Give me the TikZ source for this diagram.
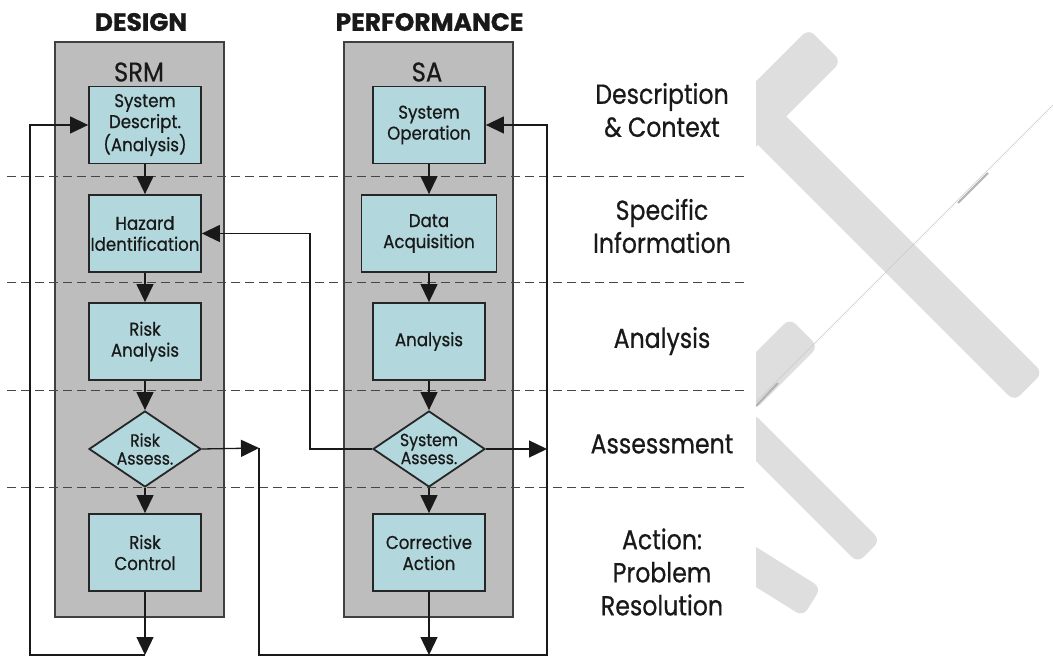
\documentclass[tikz,border=0pt]{standalone}
\usepackage{fontspec}
\setmainfont{Poppins}
\newfontfamily\sidefam[FakeStretch=0.86,FakeBold=0.6]{Poppins}
\newfontfamily\boxfam[FakeStretch=0.9,FakeBold=0.6]{Poppins}
\newfontfamily\headfam[BoldFeatures={FakeBold=0.8}]{Poppins}
\usetikzlibrary{arrows.meta,calc,shapes.geometric}
\definecolor{panelgray}{RGB}{189,189,189}
\definecolor{boxblue}{RGB}{178,216,221}
\definecolor{bandgray}{RGB}{222,222,222}
\definecolor{dashgray}{RGB}{70,70,70}
\definecolor{inkc}{RGB}{25,25,25}
\newcommand{\boxfont}{\boxfam\fontsize{18.5}{21}\selectfont}
\newcommand{\diafont}{\boxfam\fontsize{17.5}{18}\selectfont}
\newcommand{\sidefont}{\sidefam\fontsize{27.5}{33}\selectfont}
\newcommand{\headfont}{\headfam\fontsize{25}{28}\selectfont\bfseries}
\newcommand{\panelfont}{\boxfam\fontsize{27}{30}\selectfont}
\begin{document}
\begin{tikzpicture}[x=1pt,y=-1pt,
  panel/.style={draw=black!75, line width=1.5pt, fill=panelgray},
  stepbox/.style={draw=black!85, line width=1.8pt, fill=boxblue, minimum width=112pt,
    minimum height=77pt, align=center, inner sep=0pt, font=\boxfont, text=inkc},
  decision/.style={draw=black!85, line width=1.8pt, fill=boxblue, diamond,
    minimum width=112pt, minimum height=76pt, inner sep=0pt},
  dialabel/.style={align=center, font=\diafont, text=inkc, inner sep=0pt},
  flow/.style={draw=black!90, line width=1.3pt, -{Triangle[length=18pt,width=17pt]}},
  sepline/.style={draw=dashgray, line width=1pt, dash pattern=on 9pt off 5pt},
  sidelabel/.style={align=center, font=\sidefont, text=inkc, inner sep=0pt},
  band/.style={fill=bandgray, rounded corners=8pt}
]
\useasboundingbox (0,0) rectangle (1053,660);
\fill[white] (0,0) rectangle (1053,660);

% light grey strokes at the right
\begin{scope}
\clip (756,0) rectangle (1053,660);
\begin{scope}[shift={(772.5,97.5)}, rotate=45]
  \fill[band] (-60,-23) rectangle (74,23);
\end{scope}
\begin{scope}[shift={(772.5,131)}, rotate=-45]
  \fill[band] (-40,-20) rectangle (362,20);
\end{scope}
\begin{scope}[shift={(804,332.5)}, rotate=45]
  \fill[band] (-90,-20) rectangle (0,20);
\end{scope}
\begin{scope}[shift={(869,551.5)}, rotate=-45]
  \fill[band] (-180,-16) rectangle (0,16);
\end{scope}
\begin{scope}[shift={(812,602)}, rotate=-32]
  \fill[band] (-100,-17) rectangle (0,17);
\end{scope}
\draw[black!22, line width=0.6pt] (1053,105) -- (756,402);
\draw[black!30, line width=2pt] (958,203) -- (988,173);
\draw[black!30, line width=2pt] (756,406) -- (778,383);
\end{scope}

% headings
\node[font=\headfont, text=inkc] (hdesign) at (141,22) {DESIGN};
\node[font=\headfont, text=inkc] (hperf) at (429.5,22) {PERFORMANCE};

% panels
\path[panel] (55,42) rectangle (224,617);
\path[panel] (344,42) rectangle (513,617);
\node[font=\panelfont, text=inkc] (srm) at (139,72) {SRM};
\node[font=\panelfont, text=inkc] (sa) at (427,72) {SA};

% separators
\draw[sepline] (7,177) -- (747,177);
\draw[sepline] (7,283) -- (747,283);
\draw[sepline] (7,391) -- (747,391);
\draw[sepline] (7,487) -- (747,487);

% left column
\node[stepbox] (sdL) at (145,125) {System\\Descript.\\(Analysis)};
\node[stepbox] (hzL) at (145,233.5) {Hazard\\Identification};
\node[stepbox] (raL) at (145,341.5) {Risk\\Analysis};
\node[decision] (diaL) at (145,449) {};
\node[dialabel] (diaLt) at (145,449) {Risk\\Assess.};
\node[stepbox] (rcL) at (145,552.5) {Risk\\Control};

% right column
\node[stepbox] (opR) at (429,125) {System\\Operation};
\node[stepbox, minimum width=135pt] (daR) at (429,233.5) {Data\\Acquisition};
\node[stepbox] (anR) at (429,341.5) {Analysis};
\node[decision] (diaR) at (429,449) {};
\node[dialabel] (diaRt) at (429,449) {System\\Assess.};
\node[stepbox] (caR) at (429,552.5) {Corrective\\Action};

% side labels
\node[sidelabel] (l1) at (662,110) {Description\\\&~Context};
\node[sidelabel] (l2) at (662,226) {Specific\\Information};
\node[sidelabel] (l3) at (662,341) {Analysis};
\node[sidelabel] (l4) at (662,444) {Assessment};
\node[sidelabel] (l5) at (662,572) {Action:\\Problem\\Resolution};

% coordinates for connector ends
\coordinate (bL) at (145,655);
\coordinate (loopL) at (30,655);
\coordinate (aL) at (259,448);
\coordinate (brc) at (547,655);
\coordinate (aR) at (547,449);
\coordinate (bR) at (429,655);
\coordinate (fb) at (310,449);

% vertical flow
\draw[flow] (sdL) -- (hzL);
\draw[flow] (hzL) -- (raL);
\draw[flow] (raL) -- (diaL);
\draw[flow] (diaL) -- (rcL);
\draw[flow] (opR) -- (daR);
\draw[flow] (daR) -- (anR);
\draw[flow] (anR) -- (diaR);
\draw[flow] (diaR) -- (caR);

% outputs and loops
\draw[flow] (rcL.south) -- (bL);
\draw[flow] (bL) -- (loopL) |- (sdL.west);
\draw[flow] (diaL.east) -- (aL);
\draw[flow] (aL) |- (brc) |- (opR.east);
\draw[flow] (caR.south) -- (bR);
\draw[flow] (diaR.east) -- (aR);
\draw[flow] (diaR.west) -- (fb) |- (hzL.east);
\end{tikzpicture}
\end{document}
